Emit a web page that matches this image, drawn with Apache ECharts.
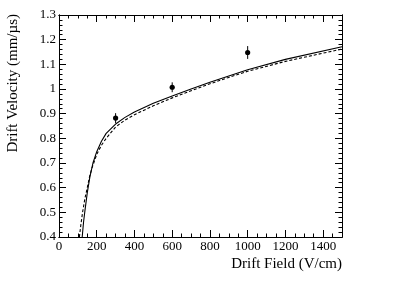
<!DOCTYPE html>
<html><head><meta charset="utf-8">
<script src="https://cdn.jsdelivr.net/npm/echarts@6/dist/echarts.min.js"></script>
<style>html,body{margin:0;padding:0;background:#fff}#c{width:394px;height:283px}</style>
</head><body><div id="c"></div>
<script>
// Measured data points: field (V/cm), drift velocity (mm/us), error
const pointFields = [300, 600, 1000];
const pointVel = [0.882, 1.007, 1.148];
const pointErr = [0.02, 0.02, 0.026];
// Solid curve
const solidFields = [123, 130, 138, 150, 164, 180, 200, 225, 250, 300, 350, 400, 500, 600, 700, 800, 900, 1000, 1200, 1500];
const solidVel = [0.4, 0.46, 0.51, 0.58, 0.645, 0.70, 0.746, 0.788, 0.82, 0.858, 0.885, 0.907, 0.942, 0.972, 1.0, 1.027, 1.053, 1.078, 1.12, 1.171];
// Dashed curve
const dashFields = [108, 116, 125, 137, 150, 162, 175, 200, 225, 250, 300, 350, 400, 500, 600, 700, 800, 900, 1000, 1200, 1500];
const dashVel = [0.4, 0.45, 0.5, 0.555, 0.6, 0.645, 0.68, 0.735, 0.772, 0.80, 0.846, 0.874, 0.896, 0.932, 0.964, 0.993, 1.021, 1.047, 1.072, 1.112, 1.162];
const xTitle = 'Drift Field (V/cm)';
const yTitle = 'Drift Velocity (mm/\u00b5s)';

const FONT = 'Liberation Serif';
const zip = (a, b) => a.map((v, i) => [v, b[i]]);
const chart = echarts.init(document.getElementById('c'), null, {renderer: 'canvas'});
const grid = {left: 59, right: 52, top: 15, bottom: 46};
function xAx(interval, tickLen, labels, pos) {
  return {type: 'value', min: 0, max: 1500, interval: interval, position: pos,
    axisLine: {show: true, onZero: false, lineStyle: {color: '#000', width: 1}},
    axisTick: {show: true, inside: true, length: tickLen, lineStyle: {color: '#000'}},
    axisLabel: {show: labels, showMaxLabel: false, color: '#000', fontFamily: FONT, fontSize: 13, margin: 3,
      formatter: v => String(v)},
    splitLine: {show: false}};
}
function yAx(interval, tickLen, labels, pos) {
  return {type: 'value', min: 0.4, max: 1.3, interval: interval, position: pos,
    axisLine: {show: true, onZero: false, lineStyle: {color: '#000', width: 1}},
    axisTick: {show: true, inside: true, length: tickLen, lineStyle: {color: '#000'}},
    axisLabel: {show: labels, color: '#000', fontFamily: FONT, fontSize: 13, margin: 3},
    splitLine: {show: false}};
}
const option = {
  animation: false,
  grid: grid,
  xAxis: [xAx(200, 7, true, 'bottom'), xAx(50, 3.5, false, 'bottom'), xAx(200, 7, false, 'top'), xAx(50, 3.5, false, 'top')],
  yAxis: [yAx(0.1, 7, true, 'left'), yAx(0.02, 3.5, false, 'left'), yAx(0.1, 7, false, 'right'), yAx(0.02, 3.5, false, 'right')],
  series: [
    {type: 'line', data: zip(solidFields, solidVel), smooth: false, showSymbol: false, clip: true,
     lineStyle: {color: '#000', width: 1.1}},
    {type: 'line', data: zip(dashFields, dashVel), smooth: false, showSymbol: false, clip: true,
     lineStyle: {color: '#000', width: 1.1, type: [3, 2]}},
    {type: 'custom', data: pointFields.map((f, i) => [f, pointVel[i], pointErr[i]]),
     renderItem: function (params, api) {
       const c = api.coord([api.value(0), api.value(1)]);
       const lo = api.coord([api.value(0), api.value(1) - api.value(2)]);
       const hi = api.coord([api.value(0), api.value(1) + api.value(2)]);
       return {type: 'group', children: [
         {type: 'line', shape: {x1: c[0], y1: lo[1], x2: c[0], y2: hi[1]}, style: {stroke: '#000', lineWidth: 1}},
         {type: 'circle', shape: {cx: c[0], cy: c[1], r: 2.6}, style: {fill: '#000'}}
       ]};
     }}
  ],
  graphic: [
    {type: 'text', x: 342, y: 264, style: {text: xTitle, font: '15px "Liberation Serif"', fill: '#000', textAlign: 'right', textVerticalAlign: 'middle'}},
    {type: 'text', x: 13, y: 14, rotation: Math.PI / 2, style: {text: yTitle, font: '15px "Liberation Serif"', fill: '#000', textAlign: 'right', textVerticalAlign: 'middle'}}
  ]
};
chart.setOption(option);
</script></body></html>
